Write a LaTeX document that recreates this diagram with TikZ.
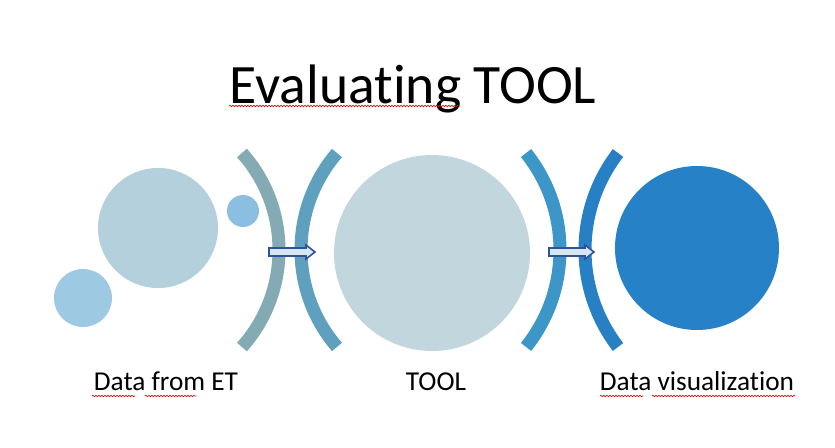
\documentclass[tikz,border=0pt]{standalone}
\usepackage{fontspec}
\setmainfont{Carlito}[Ligatures=NoCommon,RawFeature={-liga;-clig;-dlig}]
\usetikzlibrary{decorations.pathmorphing}
\definecolor{paleA}{RGB}{180,208,220}
\definecolor{paleB}{RGB}{157,201,226}
\definecolor{paleC}{RGB}{140,190,225}
\definecolor{toolgrey}{RGB}{194,214,222}
\definecolor{vizblue}{RGB}{38,129,198}
\definecolor{arcA}{RGB}{132,170,180}
\definecolor{arcB}{RGB}{94,160,190}
\definecolor{arcC}{RGB}{60,150,200}
\definecolor{arcD}{RGB}{40,128,196}
\definecolor{arrowline}{RGB}{47,85,151}
\definecolor{arrowfill}{RGB}{214,230,245}
\tikzset{
  disc/.style={circle,draw=none,inner sep=0pt},
  bracket/.style={line width=13pt,line cap=butt},
  blockarrow/.style={draw=arrowline,fill=arrowfill,line width=1.6pt,line join=miter},
  label/.style={font=\fontsize{27.3}{31}\selectfont,inner sep=0pt,anchor=base},
  squiggle/.style={draw=red!85!black,line width=0.6pt,decorate,
    decoration={snake,segment length=3pt,amplitude=0.8pt}}
}
\begin{document}
\begin{tikzpicture}[x=1pt,y=-1pt]
\useasboundingbox[fill=white] (0,0) rectangle (835,447);

% title
\node[inner sep=0pt,anchor=base,font=\fontsize{55.6}{60}\selectfont] (title) at (413,103) {Evaluating TOOL};
\draw[squiggle] (229,106) -- (460,106);

% source data circles
\node[disc,fill=paleA,minimum size=120pt] (srcbig) at (158,228) {};
\node[disc,fill=paleB,minimum size=58pt] (srcsmall) at (83,298) {};
\node[disc,fill=paleC,minimum size=32pt] (srcdot) at (243,211) {};

% tool and visualisation circles
\node[disc,fill=toolgrey,minimum size=196pt] (tool) at (432,253) {};
\node[disc,fill=vizblue,minimum size=164pt] (viz) at (697,248) {};

% bracket arcs
\draw[bracket,draw=arcA] (133.4,250) ++(-41.8:145.6) arc[start angle=-41.8,end angle=41.8,radius=145.6];
\draw[bracket,draw=arcB] (449.7,250) ++(180-40.7:148.7) arc[start angle=180-40.7,end angle=180+40.7,radius=148.7];
\draw[bracket,draw=arcC] (404.6,250) ++(-38.6:155.4) arc[start angle=-38.6,end angle=38.6,radius=155.4];
\draw[bracket,draw=arcD] (744,250) ++(180-37.6:159) arc[start angle=180-37.6,end angle=180+37.6,radius=159];

% block arrows
\draw[blockarrow] (269,248) -- (306,248) -- (306,245) -- (315,252) -- (306,259) -- (306,256) -- (269,256) -- cycle;
\draw[blockarrow] (549,248) -- (585,248) -- (585,245) -- (594,252) -- (585,259) -- (585,256) -- (549,256) -- cycle;

% labels
\node[label] (lsrc) at (166,390) {Data from ET};
\node[label] (ltool) at (436,390) {TOOL};
\node[label] (lviz) at (697,390) {Data visualization};
\draw[squiggle] (92,396) -- (135,396);
\draw[squiggle] (145,396) -- (196,396);
\draw[squiggle] (600,396) -- (643,396);
\draw[squiggle] (652,396) -- (795,396);
\end{tikzpicture}
\end{document}
